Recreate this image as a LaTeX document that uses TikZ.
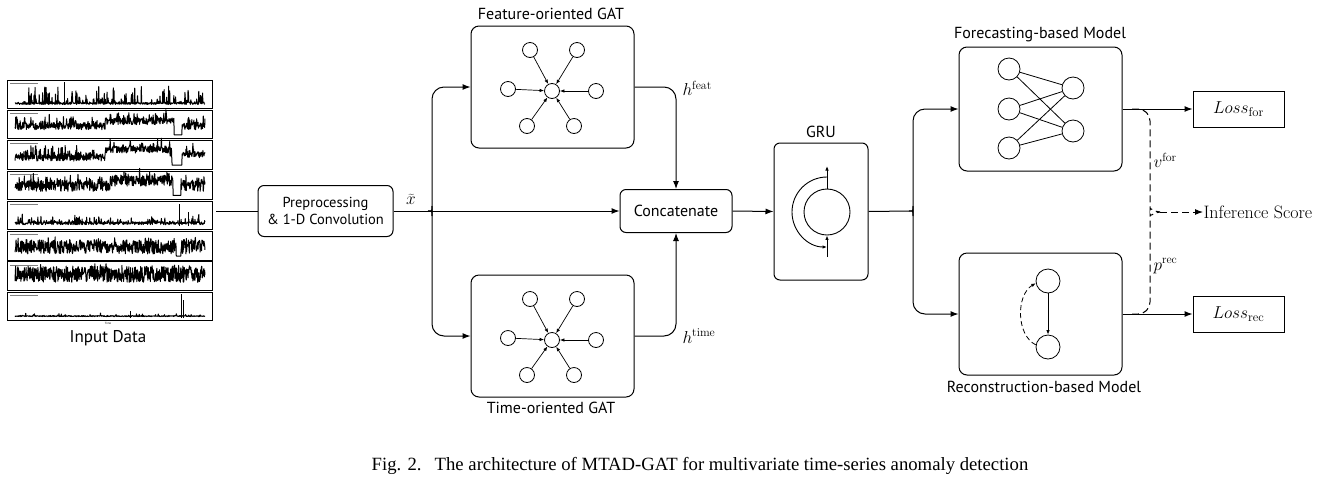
\documentclass[tikz,border=0pt]{standalone}
\usepackage{fontspec}
\setsansfont{PT Sans}
\newfontfamily\capfont{Liberation Serif}
\usetikzlibrary{arrows.meta}
\begin{document}
\begin{tikzpicture}[x=1pt,y=-1pt,line width=1pt,
  arr/.style={-{Latex[length=8pt,width=6pt]}},
  sarr/.style={-{Latex[length=4.5pt,width=3.5pt]}},
  blk/.style={draw,rounded corners=8pt,inner sep=0pt},
  lab/.style={font=\sffamily\fontsize{16}{18}\selectfont},
  gn/.style={draw,circle,minimum size=15pt,inner sep=0pt,line width=0.8pt},
  nn/.style={draw,circle,minimum size=22pt,inner sep=0pt,line width=0.8pt},
  ts/.style={line width=1pt,line join=round},
  mlab/.style={font=\fontsize{17}{19}\selectfont,inner sep=0pt},
  dsh/.style={dash pattern=on 7pt off 4pt}]
\useasboundingbox (0,0) rectangle (1320,483);

% ---------- input data panels ----------
\foreach \i in {0,...,7}{
  \draw[line width=0.8pt] (7,{80+30.3*\i}) rectangle (212,{108.5+30.3*\i});
  \draw[line width=0.5pt,gray] (10,{83+30.3*\i}) -- (38,{83+30.3*\i});
}
\draw[ts] plot[domain=15:205,samples=550] (\x,{104.5-2*rnd-18*rnd^12});
\draw[ts] (64,105) -- (64,82);
\draw[ts] plot[domain=15:205,samples=550] (\x,{134.8-((\x<174)+(\x>182))*(5+5*(\x>105)*(\x<174)+7*rnd+10*rnd^8)});
\draw[ts] plot[domain=15:205,samples=550] (\x,{165.1-((\x<172)+(\x>182))*(4+8*(\x>105)*(\x<170)+3*(\x>182)+7*rnd+10*rnd^8)});
\draw[ts] plot[domain=15:205,samples=550] (\x,{195.4-((\x<173)+(\x>181))*(4+5*(\x>110)*(\x<173)+11*rnd+8*rnd^8)});
\draw[ts] plot[domain=15:205,samples=550] (\x,{225.7-1-3*rnd-8*rnd^14});
\draw[ts] (179,226) -- (179,204); \draw[ts] (188,226) -- (188,212);
\draw[ts] plot[domain=15:205,samples=550] (\x,{256-((\x<176)+(\x>181))*(2+14*rnd+6*rnd^8)});
\draw[ts] plot[domain=15:205,samples=550] (\x,{285.3-3-16*rnd-4*rnd^8});
\draw[ts] plot[domain=15:205,samples=550] (\x,{317.6-1-1*rnd-3*rnd^30});
\draw[ts] (181,318) -- (181,294); \draw[ts] (183,318) -- (183,300); \draw[ts] (130,318) -- (130,311);
\node[font=\sffamily\fontsize{3}{3}\selectfont,inner sep=0pt] (tlab) at (108,323.5) {Time};
\node[font=\sffamily\fontsize{17}{19}\selectfont] (inlab) at (108,338) {Input Data};
\coordinate (indata) at (216,211);

% ---------- main blocks ----------
\node[blk,rounded corners=6pt,minimum width=135pt,minimum height=51pt,align=center,font=\sffamily\fontsize{14.5}{17}\selectfont] (pre) at (325.5,211) {Preprocessing\\\& 1-D Convolution};
\node[blk,minimum width=163pt,minimum height=122pt] (fgat) at (552.5,87) {};
\node[blk,minimum width=163pt,minimum height=122pt] (tgat) at (552.5,336) {};
\node[lab] at (551,14) {Feature-oriented GAT};
\node[lab] at (551,408) {Time-oriented GAT};
\node[blk,rounded corners=6pt,minimum width=112pt,minimum height=43pt,font=\sffamily\fontsize{16}{18}\selectfont] (concat) at (676,211) {Concatenate};
\node[blk,rounded corners=6pt,minimum width=94pt,minimum height=137pt] (gru) at (821,211.5) {};
\node[lab] at (821,132) {GRU};
\node[blk,minimum width=163pt,minimum height=124pt] (fore) at (1040.5,109) {};
\node[blk,minimum width=163pt,minimum height=122pt] (rec) at (1040.5,314) {};
\node[lab] at (1040,35) {Forecasting-based Model};
\node[lab] at (1044,387) {Reconstruction-based Model};
\node[draw,minimum width=91pt,minimum height=36pt,inner sep=0pt,font=\fontsize{18}{20}\selectfont] (lossf) at (1238.5,109) {$Loss_{\mathrm{for}}$};
\node[draw,minimum width=91pt,minimum height=36pt,inner sep=0pt,font=\fontsize{18}{20}\selectfont] (lossr) at (1238.5,314) {$Loss_{\mathrm{rec}}$};
\node[anchor=west,inner sep=0pt,font=\fontsize{18}{20}\selectfont] (inf) at (1203,212) {Inference Score};

% ---------- GAT graphs ----------
\foreach \g/\dy in {f/0,t/249}{
  \node[gn] (\g c) at (552,91+\dy) {};
  \node[gn] (\g 1) at (530,50+\dy) {};
  \node[gn] (\g 2) at (577,50+\dy) {};
  \node[gn] (\g 3) at (508,89+\dy) {};
  \node[gn] (\g 4) at (596,91+\dy) {};
  \node[gn] (\g 5) at (527,126+\dy) {};
  \node[gn] (\g 6) at (574,126+\dy) {};
  \foreach \k in {1,...,6}{\draw[sarr,line width=0.7pt] (\g\k) -- (\g c);}
}

% ---------- GRU interior ----------
\node[draw,circle,minimum size=46pt,inner sep=0pt,line width=0.9pt] (gc) at (827,212) {};
\coordinate (gtop) at (827,166);
\coordinate (gbot) at (827,257);
\draw[sarr,line width=0.9pt] (gc.north) -- (gtop);
\draw[sarr,line width=0.9pt] (gbot) -- (gc.south);
\draw[sarr,line width=0.9pt] (827,177) .. controls (807.7,177) and (792,192.7) .. (792,212) .. controls (792,231.3) and (807.7,247) .. (827,247);

% ---------- forecasting network ----------
\node[nn] (l1) at (1009,69) {};
\node[nn] (l2) at (1009,109) {};
\node[nn] (l3) at (1009,148) {};
\node[nn] (r1) at (1073,88) {};
\node[nn] (r2) at (1073,131) {};
\foreach \a in {l1,l2,l3}{\foreach \b in {r1,r2}{\draw[line width=0.8pt] (\a) -- (\b);}}

% ---------- reconstruction graph ----------
\node[nn,minimum size=24pt] (rt) at (1048,281) {};
\node[nn,minimum size=24pt] (rb) at (1048,347) {};
\draw[sarr,line width=0.8pt] (rt) -- (rb);
\draw[sarr,line width=0.8pt,dash pattern=on 5pt off 3pt] (rb.170) .. controls (1016,335) and (1016,295) .. (rt.190);

% ---------- connectors ----------
\draw (indata) -- (pre.west);
\draw[arr] (pre.east) -- (concat.west);
\node[mlab,font=\fontsize{16}{18}\selectfont] (xt) at (411,199) {$\widetilde{x}$};
\draw[arr,rounded corners=12pt] (428,211) .. controls (431,211) and (432,209) .. (432,204) |- (fgat.west);
\draw[arr,rounded corners=12pt] (428,211) .. controls (431,211) and (432,213) .. (432,218) |- (tgat.west);
\draw[arr,rounded corners=12pt] (fgat.east) -| (concat.north);
\draw[arr,rounded corners=12pt] (tgat.east) -| (concat.south);
\node[mlab,anchor=west] at (682,88) {$h^{\mathrm{feat}}$};
\node[mlab,anchor=west] at (682,336) {$h^{\mathrm{time}}$};
\draw[arr] (concat.east) -- (gru.west);
\coordinate (gsplit) at (909,211);
\draw (gru.east) -- (gsplit);
\draw[arr,rounded corners=12pt] (gsplit) .. controls (912,211) and (913,209) .. (913,204) |- (fore.west);
\draw[arr,rounded corners=12pt] (gsplit) .. controls (912,211) and (913,213) .. (913,218) |- (rec.west);
\draw[arr] (fore.east) -- (lossf.west);
\draw[arr] (rec.east) -- (lossr.west);
\coordinate (btip) at (1160,212);
\draw[dsh,rounded corners=12pt] (1132,109) -| (1150,198) .. controls (1150,206) and (1153,212) .. (btip);
\draw[dsh,rounded corners=12pt] (1132,314) -| (1150,226) .. controls (1150,218) and (1153,212) .. (btip);
\draw[arr,dsh] (btip) -- (inf.west);
\node[mlab,anchor=west] at (1153,160) {$v^{\mathrm{for}}$};
\node[mlab,anchor=west] at (1153,266) {$p^{\mathrm{rec}}$};

% ---------- caption ----------
\node[font=\capfont\fontsize{18.7}{21}\selectfont,inner sep=0pt] (cap) at (700,466) {Fig. 2.\hspace{0.7em}The architecture of MTAD-GAT for multivariate time-series anomaly detection};
\end{tikzpicture}
\end{document}
